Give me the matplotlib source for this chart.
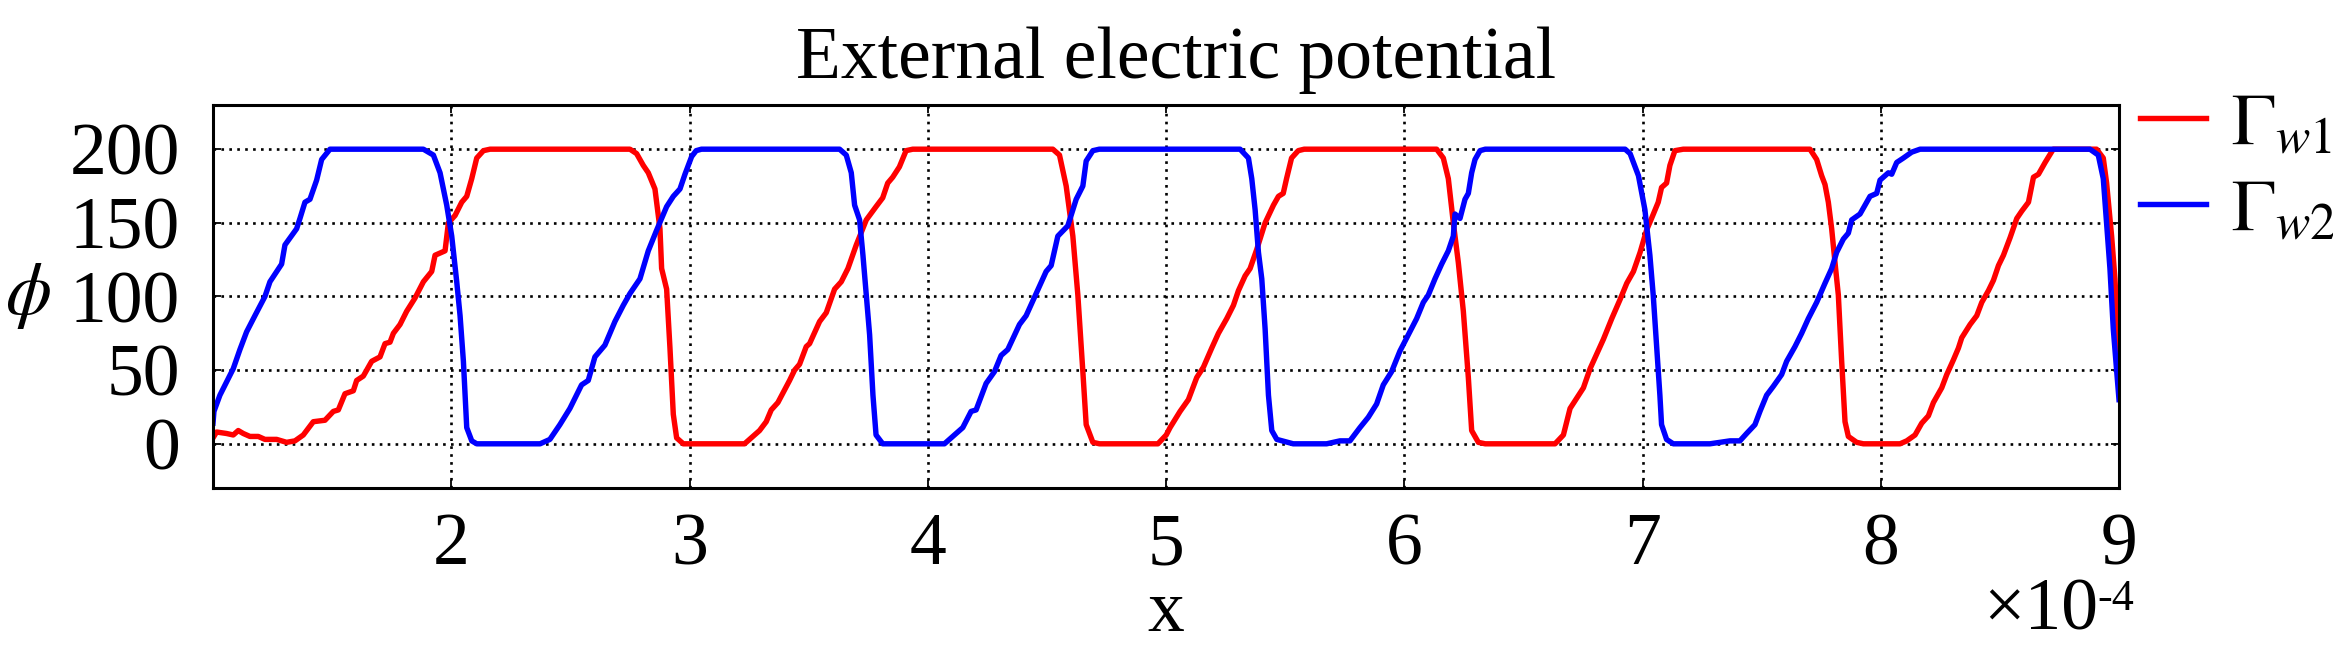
import matplotlib
matplotlib.use("Agg")
import matplotlib.pyplot as plt

# ---- data (x in units of 1e-4) ----
x_w1 = [1.000, 1.015, 1.057, 1.085, 1.106, 1.127, 1.155, 1.190, 1.218, 1.267, 1.309, 1.344, 1.379, 1.421,
        1.470, 1.505, 1.526, 1.554, 1.589, 1.603, 1.631, 1.666, 1.701, 1.722, 1.743, 1.757, 1.785, 1.813,
        1.848, 1.883, 1.918, 1.932, 1.974, 1.988, 2.016, 2.044, 2.065, 2.086, 2.107, 2.135, 2.163, 2.750,
        2.778, 2.806, 2.827, 2.855, 2.876, 2.883, 2.904, 2.918, 2.932, 2.946, 2.974, 3.231, 3.252, 3.294,
        3.322, 3.343, 3.371, 3.420, 3.441, 3.462, 3.490, 3.504, 3.546, 3.574, 3.609, 3.637, 3.665, 3.700,
        3.742, 3.783, 3.811, 3.832, 3.853, 3.881, 3.909, 3.937, 4.525, 4.553, 4.581, 4.609, 4.630, 4.651,
        4.665, 4.693, 4.721, 4.966, 5.001, 5.017, 5.059, 5.094, 5.129, 5.157, 5.192, 5.220, 5.255, 5.283,
        5.304, 5.332, 5.353, 5.381, 5.416, 5.451, 5.472, 5.492, 5.506, 5.527, 5.555, 5.580, 6.136, 6.164,
        6.185, 6.206, 6.227, 6.248, 6.269, 6.283, 6.311, 6.340, 6.633, 6.668, 6.696, 6.724, 6.752, 6.780,
        6.808, 6.836, 6.871, 6.906, 6.934, 6.962, 6.990, 7.017, 7.038, 7.066, 7.080, 7.101, 7.115, 7.136,
        7.171, 7.703, 7.731, 7.752, 7.766, 7.780, 7.794, 7.808, 7.822, 7.836, 7.850, 7.864, 7.899, 7.927,
        8.081, 8.109, 8.144, 8.172, 8.200, 8.221, 8.256, 8.277, 8.305, 8.326, 8.340, 8.375, 8.403, 8.424,
        8.452, 8.473, 8.494, 8.515, 8.543, 8.571, 8.592, 8.620, 8.641, 8.662, 8.690, 8.724, 8.906, 8.934,
        8.948, 8.969, 8.983, 9.000]
phi_w1 = [4, 8, 7, 6, 9, 7, 5, 5, 3, 3, 1, 2, 6, 15,
          16, 22, 23, 34, 36, 43, 46, 56, 59, 68, 69, 75, 81, 90,
          99, 110, 117, 128, 131, 150, 155, 164, 168, 180, 194, 199, 200, 200,
          197, 189, 184, 173, 146, 119, 105, 65, 20, 4, 0, 0, 3, 9,
          15, 23, 28, 43, 50, 54, 66, 68, 83, 89, 105, 110, 119, 135,
          152, 161, 167, 177, 181, 188, 199, 200, 200, 196, 175, 141, 101, 49,
          13, 1, 0, 0, 6, 11, 22, 30, 45, 52, 65, 75, 85, 94,
          104, 114, 119, 132, 150, 162, 168, 170, 180, 194, 199, 200, 200, 194,
          180, 150, 123, 90, 45, 9, 1, 0, 0, 6, 24, 31, 38, 51,
          61, 71, 85, 98, 109, 117, 130, 145, 153, 164, 174, 177, 189, 199,
          200, 200, 193, 182, 176, 164, 146, 123, 101, 56, 15, 5, 1, 0,
          0, 2, 6, 14, 19, 28, 38, 47, 57, 65, 72, 81, 87, 96,
          104, 111, 121, 128, 140, 153, 158, 164, 181, 183, 191, 200, 200, 194,
          177, 141, 112, 56]

x_w2 = [1.000, 1.004, 1.029, 1.085, 1.113, 1.141, 1.176, 1.218, 1.239, 1.288, 1.302, 1.351, 1.365, 1.386,
        1.407, 1.435, 1.456, 1.491, 1.883, 1.925, 1.953, 1.981, 2.002, 2.023, 2.037, 2.051, 2.065, 2.086,
        2.107, 2.373, 2.414, 2.456, 2.498, 2.547, 2.575, 2.603, 2.645, 2.687, 2.722, 2.750, 2.792, 2.827,
        2.862, 2.904, 2.932, 2.960, 2.981, 3.009, 3.028, 3.050, 3.630, 3.658, 3.679, 3.693, 3.714, 3.728,
        3.742, 3.756, 3.770, 3.783, 3.811, 4.070, 4.105, 4.147, 4.182, 4.203, 4.245, 4.280, 4.308, 4.336,
        4.385, 4.413, 4.455, 4.497, 4.518, 4.546, 4.588, 4.623, 4.651, 4.665, 4.693, 4.720, 5.311, 5.346,
        5.360, 5.374, 5.388, 5.402, 5.416, 5.430, 5.444, 5.465, 5.534, 5.674, 5.730, 5.772, 5.814, 5.849,
        5.884, 5.912, 5.947, 5.982, 6.017, 6.052, 6.080, 6.101, 6.129, 6.157, 6.185, 6.206, 6.213, 6.234,
        6.255, 6.269, 6.283, 6.297, 6.318, 6.340, 6.927, 6.948, 6.983, 7.004, 7.010, 7.031, 7.045, 7.059,
        7.073, 7.080, 7.101, 7.129, 7.283, 7.325, 7.367, 7.409, 7.437, 7.472, 7.493, 7.521, 7.549, 7.584,
        7.605, 7.640, 7.668, 7.696, 7.731, 7.766, 7.794, 7.815, 7.843, 7.864, 7.878, 7.913, 7.941, 7.955,
        7.983, 7.997, 8.032, 8.046, 8.067, 8.095, 8.130, 8.165, 8.878, 8.913, 8.934, 8.948, 8.962, 8.976,
        9.000]
phi_w2 = [14, 22, 33, 51, 64, 76, 87, 100, 110, 122, 135, 146, 153, 164,
          166, 179, 193, 200, 200, 196, 184, 162, 141, 110, 87, 56, 11, 2,
          0, 0, 3, 13, 24, 40, 43, 59, 67, 83, 94, 102, 112, 131,
          145, 161, 168, 173, 183, 195, 199, 200, 200, 196, 184, 162, 152, 128,
          101, 74, 33, 6, 0, 0, 5, 11, 22, 23, 41, 49, 60, 64,
          81, 87, 102, 117, 121, 141, 148, 166, 175, 192, 199, 200, 200, 194,
          180, 159, 130, 112, 78, 33, 9, 3, 0, 0, 2, 2, 11, 18,
          27, 40, 49, 63, 74, 85, 96, 101, 112, 122, 131, 141, 156, 153,
          166, 170, 184, 193, 199, 200, 200, 197, 182, 164, 159, 128, 101, 67,
          33, 13, 3, 0, 0, 1, 2, 2, 7, 13, 22, 33, 39, 47,
          56, 66, 75, 85, 96, 109, 119, 130, 139, 143, 152, 156, 164, 168,
          170, 179, 184, 183, 191, 194, 198, 200, 200, 196, 180, 150, 119, 78,
          30]

x_ticks = [2, 3, 4, 5, 6, 7, 8, 9]
y_ticks = [0, 50, 100, 150, 200]
labels = [r'$\Gamma_{w1}$', r'$\Gamma_{w2}$']
title = "External electric potential"

# ---- style ----
plt.rcParams['font.family'] = ['Liberation Serif', 'DejaVu Serif']
plt.rcParams['mathtext.fontset'] = 'stix'
FS = 53
W, H = 2333, 653
fig = plt.figure(figsize=(W / 100, H / 100), dpi=100)
ax = fig.add_axes([213 / W, 1 - 488 / H, (2119 - 213) / W, (488 - 105) / H])

ax.plot(x_w1, phi_w1, color='#ff0000', lw=3.9, label=labels[0], solid_joinstyle='round')
ax.plot(x_w2, phi_w2, color='#0000ff', lw=3.9, label=labels[1], solid_joinstyle='round')

ax.set_xlim(1, 9)
ax.set_ylim(-30, 230)
ax.set_xticks(x_ticks)
ax.set_yticks(y_ticks)
ax.grid(True, color='black', linestyle=(0, (1, 2.0)), linewidth=1.9)
ax.tick_params(direction='in', length=6, width=1.3, top=True, right=True,
               labelsize=FS, color='black')
ax.tick_params(axis='x', pad=18)
ax.tick_params(axis='y', pad=24)
for s in ax.spines.values():
    s.set_linewidth(2.2)

# labels / title
fig.text(1176 / W, 1 - 78 / H, title, ha='center', va='baseline', fontsize=FS)
fig.text(1166 / W, 1 - 631 / H, 'x', ha='center', va='baseline', fontsize=FS)
fig.text(28 / W, 1 - 296 / H, r'$\phi$', ha='center', va='center', fontsize=FS)
fig.text(1983 / W, 1 - 630 / H, '×10', ha='left', va='baseline', fontsize=FS)
fig.text(2097 / W, 1 - 610 / H, '-4', ha='left', va='baseline', fontsize=FS * 0.6)

leg = ax.legend(loc='upper left', bbox_to_anchor=(2140 / W, 1 - 92 / H),
                bbox_transform=fig.transFigure, frameon=False, fontsize=FS,
                handlelength=0.9, handletextpad=0.34, borderpad=0, borderaxespad=0,
                labelspacing=0.25)

fig.savefig('out.png', dpi=100)
